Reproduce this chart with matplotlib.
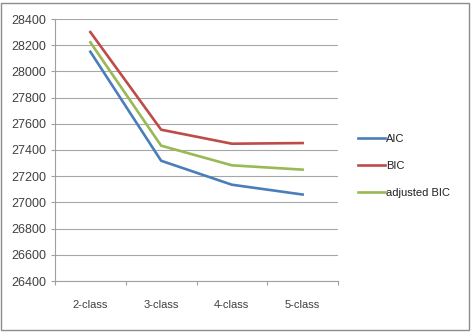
import matplotlib
matplotlib.use('Agg')
import matplotlib.pyplot as plt
from matplotlib.patches import Rectangle

categories = ['2-class', '3-class', '4-class', '5-class']
aic = [28150, 27318, 27135, 27060]
bic = [28300, 27555, 27448, 27453]
adj_bic = [28222, 27433, 27283, 27250]
yticks = list(range(26400, 28401, 200))

plt.rcParams['font.family'] = ['Liberation Sans', 'DejaVu Sans']

fig = plt.figure(figsize=(4.71, 3.34), dpi=100)
ax = fig.add_axes([55 / 471, 1 - 281 / 334, 283 / 471, 262 / 334])

x = range(len(categories))
ax.plot(x, aic, color='#4A7EBB', lw=1.9, label='AIC')
ax.plot(x, bic, color='#BE4B48', lw=1.9, label='BIC')
ax.plot(x, adj_bic, color='#98B954', lw=1.9, label='adjusted BIC')

ax.set_ylim(26400, 28400)
ax.set_yticks(yticks)
ax.set_xlim(-0.5, 3.5)
ax.set_xticks([i - 0.5 for i in range(5)], minor=False)
ax.set_xticklabels([])
ax.set_xticks(list(x), minor=True)
ax.set_xticklabels(categories, minor=True)
ax.tick_params(axis='x', which='minor', length=0, pad=14, labelsize=8, colors='#404040')
ax.tick_params(axis='x', which='major', length=3, color='#A0A0A0')
ax.tick_params(axis='y', length=3, color='#A0A0A0', labelsize=9, labelcolor='#404040', pad=3)
ax.grid(axis='y', color='#A6A6A6', lw=0.8)
ax.set_axisbelow(True)
for s in ['top', 'right']:
    ax.spines[s].set_visible(False)
for s in ['left', 'bottom']:
    ax.spines[s].set_color('#A0A0A0')

ax.legend(loc='center left', bbox_to_anchor=(1.071, 0.439), frameon=False,
          fontsize=8, handlelength=2.4, handletextpad=0.15, labelspacing=1.55,
          borderpad=0, borderaxespad=0, labelcolor='#202020')

fig.patches.append(Rectangle((1 / 471, 4 / 334), 468 / 471, 327 / 334,
                             transform=fig.transFigure, fill=False,
                             edgecolor='#8C8C8C', lw=1))
fig.savefig('out.png', dpi=100)
